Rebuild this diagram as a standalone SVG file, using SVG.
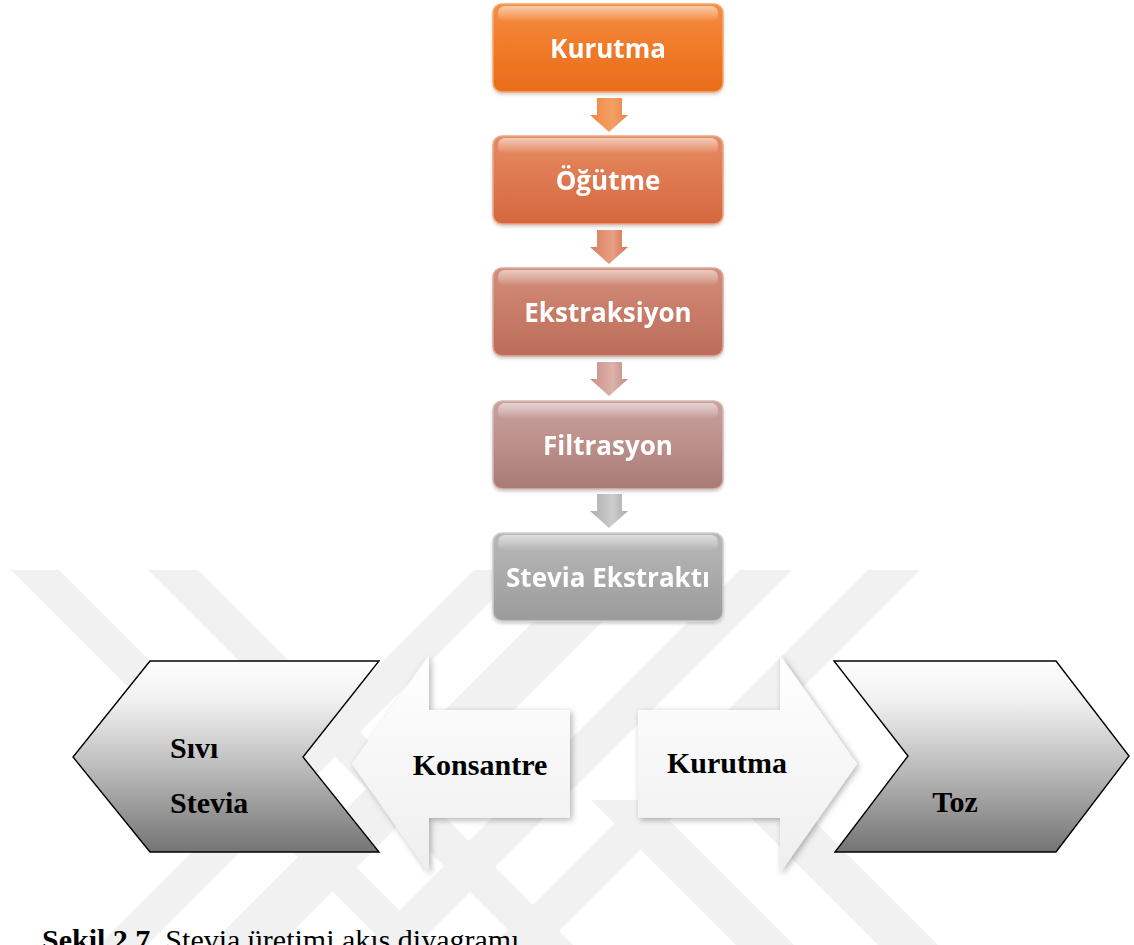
<svg xmlns="http://www.w3.org/2000/svg" width="1134" height="945" viewBox="0 0 1134 945">
<defs>
<style>
.wm{fill:#f1f1f1}
.btxt{font-family:"Open Sans","Liberation Sans",sans-serif;font-weight:bold;font-size:26px;fill:#ffffff;text-anchor:middle}
.stxt{font-family:"Liberation Serif","Times New Roman",serif;font-weight:bold;font-size:30px;fill:#000000}
.chev{stroke:#000000;stroke-width:1.4;fill:url(#gChev);stroke-linejoin:miter}
.barrow{fill:url(#gArrowW);filter:url(#shadow)}
.gloss{fill:url(#gGloss)}
.cap{font-family:"Liberation Serif","Times New Roman",serif;font-size:30px;fill:#000000}
</style>
<linearGradient id="gChev" x1="0" y1="0" x2="0" y2="1">
<stop offset="0" stop-color="#fefefe"/><stop offset="0.22" stop-color="#efefef"/><stop offset="0.55" stop-color="#bdbdbd"/><stop offset="1" stop-color="#747474"/>
</linearGradient>
<linearGradient id="gArrowW" x1="0" y1="0" x2="0" y2="1">
<stop offset="0" stop-color="#ffffff"/><stop offset="1" stop-color="#eeeeee"/>
</linearGradient>
<linearGradient id="gGloss" x1="0" y1="0" x2="0" y2="1">
<stop offset="0" stop-color="#ffffff" stop-opacity="0.55"/><stop offset="1" stop-color="#ffffff" stop-opacity="0"/>
</linearGradient>
<linearGradient id="g1" x1="0" y1="0" x2="0" y2="1"><stop offset="0" stop-color="#f58d44"/><stop offset="0.5" stop-color="#f07a28"/><stop offset="1" stop-color="#e86d1c"/></linearGradient>
<linearGradient id="g2" x1="0" y1="0" x2="0" y2="1"><stop offset="0" stop-color="#e68c63"/><stop offset="0.5" stop-color="#de7850"/><stop offset="1" stop-color="#d4673d"/></linearGradient>
<linearGradient id="g3" x1="0" y1="0" x2="0" y2="1"><stop offset="0" stop-color="#d28e7c"/><stop offset="0.5" stop-color="#c87c68"/><stop offset="1" stop-color="#bb6c5a"/></linearGradient>
<linearGradient id="g4" x1="0" y1="0" x2="0" y2="1"><stop offset="0" stop-color="#c8a19c"/><stop offset="0.5" stop-color="#bb8f8a"/><stop offset="1" stop-color="#a97b77"/></linearGradient>
<linearGradient id="g5" x1="0" y1="0" x2="0" y2="1"><stop offset="0" stop-color="#b8b8b8"/><stop offset="0.5" stop-color="#aaaaaa"/><stop offset="1" stop-color="#9b9b9b"/></linearGradient>
<linearGradient id="a1" x1="0" y1="0" x2="1" y2="0"><stop offset="0" stop-color="#f08640"/><stop offset="0.6" stop-color="#f4a068"/><stop offset="1" stop-color="#ee8040"/></linearGradient>
<linearGradient id="a2" x1="0" y1="0" x2="1" y2="0"><stop offset="0" stop-color="#dc7c58"/><stop offset="0.6" stop-color="#e8a086"/><stop offset="1" stop-color="#d6704c"/></linearGradient>
<linearGradient id="a3" x1="0" y1="0" x2="1" y2="0"><stop offset="0" stop-color="#c98f86"/><stop offset="0.6" stop-color="#dcb2ab"/><stop offset="1" stop-color="#c28a82"/></linearGradient>
<linearGradient id="a4" x1="0" y1="0" x2="1" y2="0"><stop offset="0" stop-color="#aeaeae"/><stop offset="0.6" stop-color="#cccccc"/><stop offset="1" stop-color="#a8a8a8"/></linearGradient>
<filter id="shadow" x="-20%" y="-20%" width="140%" height="140%">
<feDropShadow dx="2" dy="2" stdDeviation="3" flood-color="#000000" flood-opacity="0.3"/>
</filter>
<filter id="bshadow" x="-10%" y="-10%" width="120%" height="130%">
<feDropShadow dx="0" dy="2" stdDeviation="1.5" flood-color="#000000" flood-opacity="0.18"/>
</filter>
</defs>
<rect width="1134" height="945" fill="#ffffff"/>
<g id="watermark">
<polygon class="wm" points="11,570 59,570 434,945 386,945"/>
<polygon class="wm" points="148,570 198,570 573,945 523,945"/>
<polygon class="wm" points="474,570 522,570 147,945 99,945"/>
<polygon class="wm" points="585,570 654,570 279,945 210,945"/>
<polygon class="wm" points="740,570 792,570 417,945 365,945"/>
<polygon class="wm" points="868,570 920,570 545,945 493,945"/>
<polygon class="wm" points="591,800 649,800 794,945 736,945"/>
<polygon class="wm" points="733,800 793,800 938,945 878,945"/>
</g>
<g id="connectors">
<polygon fill="url(#a1)" points="597,98 622,98 622,115 628,115 609,132 590,115 597,115"/>
<polygon fill="url(#a2)" points="597,230 622,230 622,247 628,247 609,264 590,247 597,247"/>
<polygon fill="url(#a3)" points="597,362 622,362 622,379 628,379 609,396 590,379 597,379"/>
<polygon fill="url(#a4)" points="597,494 622,494 622,511 628,511 609,528 590,511 597,511"/>
</g>
<g id="node-kurutma" filter="url(#bshadow)">
<rect x="493" y="4" width="230" height="88" rx="9" fill="url(#g1)" stroke="#f7a56a" stroke-width="1.5"/>
<rect class="gloss" x="498" y="6" width="220" height="16" rx="7"/>
<text class="btxt" x="608" y="58">Kurutma</text>
</g>
<g id="node-ogutme" filter="url(#bshadow)">
<rect x="493" y="136" width="230" height="88" rx="9" fill="url(#g2)" stroke="#eda787" stroke-width="1.5"/>
<rect class="gloss" x="498" y="138" width="220" height="16" rx="7"/>
<text class="btxt" x="608" y="190">Öğütme</text>
</g>
<g id="node-ekstraksiyon" filter="url(#bshadow)">
<rect x="493" y="268" width="230" height="88" rx="9" fill="url(#g3)" stroke="#dca99b" stroke-width="1.5"/>
<rect class="gloss" x="498" y="270" width="220" height="16" rx="7"/>
<text class="btxt" x="608" y="322">Ekstraksiyon</text>
</g>
<g id="node-filtrasyon" filter="url(#bshadow)">
<rect x="493" y="401" width="230" height="88" rx="9" fill="url(#g4)" stroke="#d6b8b4" stroke-width="1.5"/>
<rect class="gloss" x="498" y="403" width="220" height="16" rx="7"/>
<text class="btxt" x="608" y="455">Filtrasyon</text>
</g>
<g id="node-stevia-ekstrakti" filter="url(#bshadow)">
<rect x="493" y="533" width="230" height="88" rx="9" fill="url(#g5)" stroke="#cdcdcd" stroke-width="1.5"/>
<rect class="gloss" x="498" y="535" width="220" height="16" rx="7"/>
<text class="btxt" x="608" y="587">Stevia Ekstraktı</text>
</g>
<g id="node-sivi-stevia">
<polygon class="chev" points="150,661 379,661 303,757 379,852 150,852 73,757"/>
<text class="stxt" x="170" y="758">Sıvı</text>
<text class="stxt" x="170" y="813">Stevia</text>
</g>
<g id="node-konsantre">
<polygon class="barrow" points="352,764 429,655 429,710 570,710 570,818 429,818 429,873"/>
<text class="stxt" x="480" y="775" text-anchor="middle">Konsantre</text>
</g>
<g id="node-kurutma2">
<polygon class="barrow" points="857,764 780,655 780,710 638,710 638,818 780,818 780,873"/>
<text class="stxt" x="727" y="773" text-anchor="middle">Kurutma</text>
</g>
<g id="node-toz">
<polygon class="chev" points="834,661 1056,661 1129,756 1056,852 835,852 908,756"/>
<text class="stxt" x="955" y="812" text-anchor="middle">Toz</text>
</g>
<text class="cap" x="42" y="950"><tspan font-weight="bold">Şekil 2.7.</tspan> Stevia üretimi akış diyagramı</text>
</svg>
